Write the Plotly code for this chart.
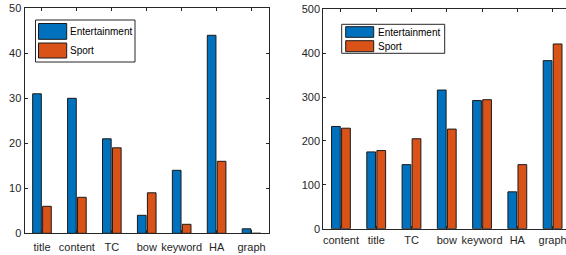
import plotly.graph_objects as go

# ---- data ----
left_categories = ["title", "content", "TC", "bow", "keyword", "HA", "graph"]
left_entertainment = [31, 30, 21, 4, 14, 44, 1]
left_sport = [6, 8, 19, 9, 2, 16, 0]

right_categories = ["content", "title", "TC", "bow", "keyword", "HA", "graph"]
right_entertainment = [233, 175, 146, 316, 292, 84, 383]
right_sport = [229, 178, 205, 227, 294, 146, 421]

series_names = ["Entertainment", "Sport"]
left_yticks = [0, 10, 20, 30, 40, 50]
right_yticks = [0, 100, 200, 300, 400, 500]

# ---- style ----
W, H = 566, 255
BLUE = "#0072BD"
ORANGE = "#D95319"
AXC = "#262626"
EDGE = "#1a1a1a"
FONT = "Liberation Sans, Arial, Helvetica, sans-serif"

fig = go.Figure()

def add_pair(cats, ent, spo, xa, ya):
    for name, vals, col in ((series_names[0], ent, BLUE), (series_names[1], spo, ORANGE)):
        fig.add_trace(go.Bar(
            x=cats, y=vals, name=name, xaxis=xa, yaxis=ya,
            marker=dict(color=col, line=dict(color=EDGE, width=1)),
            showlegend=False, hoverinfo="skip",
        ))

add_pair(left_categories, left_entertainment, left_sport, "x", "y")
add_pair(right_categories, right_entertainment, right_sport, "x2", "y2")

def px_x(p):
    return p / W

def px_y(p):
    return 1 - p / H

common_x = dict(type="category", showline=True, linecolor=AXC, linewidth=1,
                ticks="inside", ticklen=3, tickcolor=AXC, showgrid=False,
                zeroline=False, automargin=False,
                tickfont=dict(size=11, color=AXC, family=FONT))
common_y = dict(showline=True, linecolor=AXC, linewidth=1,
                ticks="inside", ticklen=3, tickcolor=AXC, showgrid=False,
                zeroline=False, automargin=False,
                tickfont=dict(size=11, color=AXC, family=FONT))

fig.update_layout(
    width=W, height=H,
    margin=dict(l=0, r=0, t=0, b=0, pad=0, autoexpand=False),
    paper_bgcolor="white", plot_bgcolor="white",
    barmode="group", bargap=0.43, bargroupgap=0.13,
    font=dict(family=FONT, color=AXC),
    xaxis=dict(common_x, domain=[px_x(24.5), px_x(269)], range=[-0.5, 6.5],
               mirror="ticks", anchor="y", ticklabelstandoff=3),
    yaxis=dict(common_y, domain=[px_y(233.3), px_y(8.3)], range=[0, 50],
               tickvals=left_yticks, mirror="ticks", anchor="x"),
    xaxis2=dict(common_x, domain=[px_x(323.3), 1.0], range=[-0.5, 6.38],
                mirror="ticks", anchor="y2", ticklabelstandoff=1),
    yaxis2=dict(common_y, domain=[px_y(228.7), px_y(9.3)], range=[0, 500],
                tickvals=right_yticks, mirror=False, anchor="x2"),
)

# ---- legends (drawn as boxes with real text) ----
def draw_legend(box, sw_x, sw_rows, text_x):
    x0, y0, x1, y1 = box
    fig.add_shape(type="rect", xref="paper", yref="paper",
                  x0=px_x(x0), x1=px_x(x1), y0=px_y(y1), y1=px_y(y0),
                  line=dict(color=AXC, width=1), fillcolor="white", layer="above")
    for (ya, yb), col, name in zip(sw_rows, (BLUE, ORANGE), series_names):
        fig.add_shape(type="rect", xref="paper", yref="paper",
                      x0=px_x(sw_x[0]), x1=px_x(sw_x[1]), y0=px_y(yb), y1=px_y(ya),
                      line=dict(color=EDGE, width=1), fillcolor=col, layer="above")
        fig.add_annotation(xref="paper", yref="paper", x=px_x(text_x),
                           y=px_y((ya + yb) / 2), text=name, showarrow=False,
                           xanchor="left", yanchor="middle",
                           font=dict(size=10, color="black", family=FONT))

draw_legend((35.5, 20, 135, 62), (38.5, 66.7), [(23.5, 39.3), (43, 58)], 68)
draw_legend((341.7, 24.3, 444.7, 53.3), (345.7, 373.7), [(26.7, 37.3), (40.7, 51.7)], 375.5)

fig.write_html("out.html", config={"displayModeBar": False},
               post_script="document.body.style.margin='0';document.body.style.overflow='hidden';")
